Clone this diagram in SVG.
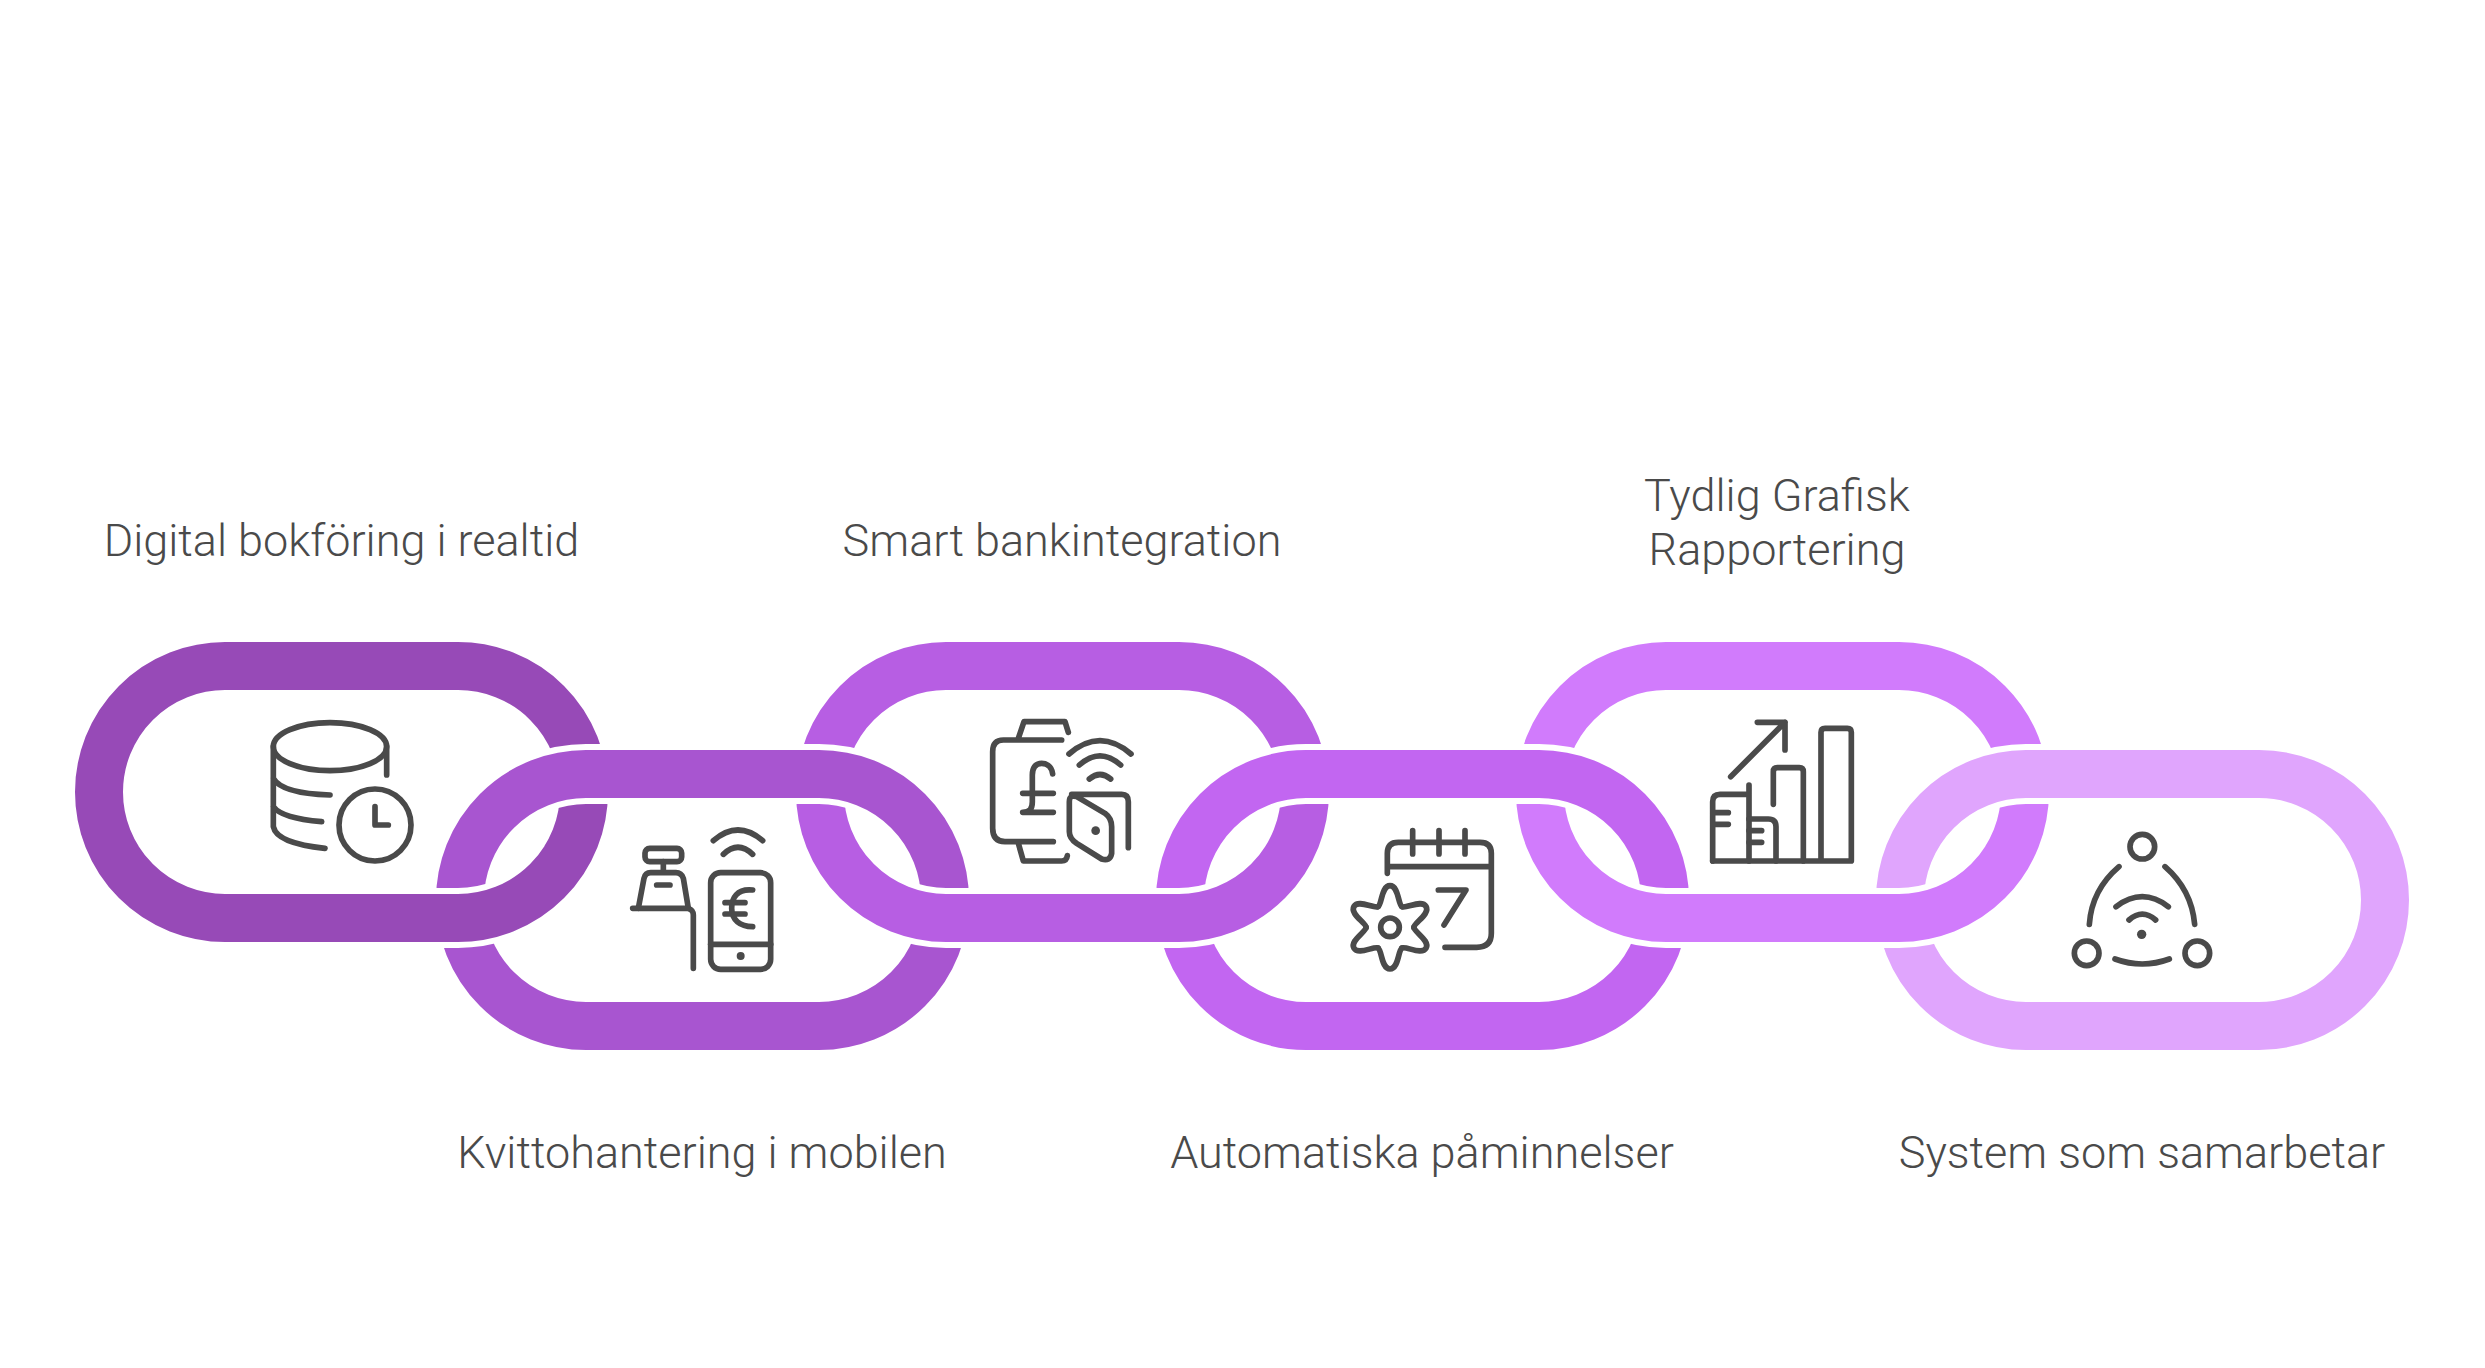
<svg xmlns="http://www.w3.org/2000/svg" width="2485" height="1368" viewBox="0 0 2485 1368">
<style>
.label{font-family:Roboto,"Liberation Sans",sans-serif;font-size:45px;font-weight:300;fill:#4a4a4a;text-anchor:middle}
.link{fill:none;stroke-width:48}
.halo{fill:none;stroke:#fff;stroke-width:60}
.icon{fill:none;stroke:#4a4a4a;stroke-width:17;stroke-linecap:round;stroke-linejoin:round}
.dot{fill:#4a4a4a;stroke:none}
.c1{stroke:#974ab7}.c2{stroke:#a855d0}.c3{stroke:#b75ee3}.c4{stroke:#c266f1}.c5{stroke:#d17bfc}.c6{stroke:#e0a5fd}
</style>
<defs>
<clipPath id="lower"><rect x="0" y="846" width="2485" height="300"/></clipPath>
<rect id="up" width="485" height="252" y="666" rx="126" ry="126"/>
<rect id="down" width="485" height="252" y="774" rx="126" ry="126"/>
<path id="lobe" d="M216 290C204 283 206 227 180 227C154 227 156 283 144 290"/>
</defs>
<rect width="2485" height="1368" fill="#fff"/>

<g id="node-1">
<use href="#up" x="99" class="link c1"/>
<text class="label" x="341.5" y="556">Digital bokföring i realtid</text>
<g class="icon" transform="translate(250 700) scale(.33333)">
<ellipse cx="240" cy="140" rx="170" ry="72"/>
<path d="M70 140V380Q80 430 225 445M410 140V225M70 235Q95 280 240 285M70 320Q95 355 215 365"/>
<circle cx="375" cy="375" r="108"/>
<path d="M375 320V375H415"/>
</g>
</g>

<g id="node-3">
<use href="#up" x="820" class="link c3"/>
<text class="label" x="1062" y="556">Smart bankintegration</text>
<g class="icon" transform="translate(970 705) scale(.33333)">
<path d="M275 105H100Q68 105 68 140V370Q68 410 105 410H250M145 100L162 50H285L295 82M145 415L160 468H275Q290 468 292 452"/>
<path d="M248 207C245 180 225 175 215 175C195 175 187 190 187 210V290C187 310 180 322 158 322M158 265H250M158 322H250"/>
<path d="M297 147Q390 67 483 147M328 180Q390 125 452 180M358 222Q390 195 422 222"/>
<path d="M305 268H455Q475 268 475 290V428M320 275L405 325Q425 340 425 365V445Q420 470 395 462L320 415Q298 400 298 380V290Q298 268 320 275Z"/>
<circle class="dot" cx="377" cy="377" r="13"/>
</g>
</g>

<g id="node-5">
<use href="#up" x="1540" class="link c5"/>
<text class="label"><tspan x="1777" y="511">Tydlig Grafisk</tspan><tspan x="1777" y="565">Rapportering</tspan></text>
<g class="icon" transform="translate(1690 705) scale(.33333)">
<path d="M122 215L285 52M202 52H285V135"/>
<path d="M68 468V290Q68 268 90 268H177M177 240V468M68 323H115M68 358H115"/>
<path d="M177 342H235Q258 342 258 365V468M177 377H215M177 412H215"/>
<path d="M250 298V200Q250 188 262 188H328Q340 188 340 200V468"/>
<path d="M393 468V82Q393 70 405 70H472Q484 70 484 82V468M68 468H484"/>
</g>
</g>

<g id="node-2">
<use href="#down" x="460" class="halo"/>
<use href="#down" x="460" class="link c2"/>
<text class="label" x="702" y="1168">Kvittohantering i mobilen</text>
<g class="icon" transform="translate(620 810) scale(.33333)">
<rect x="75" y="115" width="110" height="40" rx="14"/>
<path d="M130 155V185M55 295L72 205Q76 188 92 188H168Q184 188 190 205L205 295M110 225H150"/>
<path d="M38 295H205Q220 300 220 315V475"/>
<rect x="272" y="188" width="180" height="290" rx="30"/>
<path d="M272 403H452"/>
<circle class="dot" cx="362" cy="438" r="12"/>
<path d="M398 240C350 235 335 265 335 295C335 330 360 350 398 350M315 278H375M315 312H375"/>
<path d="M280 92Q354 28 428 92M310 133Q354 91 398 133"/>
</g>
</g>

<g id="node-4">
<use href="#down" x="1180" class="halo"/>
<use href="#down" x="1180" class="link c4"/>
<text class="label" x="1422" y="1168">Automatiska påminnelser</text>
<g class="icon" transform="translate(1330 810) scale(.33333)">
<path d="M172 190V130Q172 97 205 97H450Q484 97 484 130V370Q484 412 440 412H345M172 170H484M248 62V132M327 62V132M405 62V132M325 240H408L342 345"/>
<circle cx="180" cy="352" r="28"/>
<use href="#lobe"/>
<use href="#lobe" transform="rotate(60 180 352)"/>
<use href="#lobe" transform="rotate(120 180 352)"/>
<use href="#lobe" transform="rotate(180 180 352)"/>
<use href="#lobe" transform="rotate(240 180 352)"/>
<use href="#lobe" transform="rotate(300 180 352)"/>
</g>
</g>

<g id="node-6">
<use href="#down" x="1900" class="halo"/>
<use href="#down" x="1900" class="link c6"/>
<text class="label" x="2142" y="1168">System som samarbetar</text>
<g class="icon" transform="translate(2050 815) scale(.33333)">
<circle cx="277" cy="95" r="37"/>
<circle cx="110" cy="415" r="37"/>
<circle cx="442" cy="415" r="37"/>
<path d="M207 155Q125 225 118 328M345 155Q425 225 434 328M195 432Q277 462 358 432M198 275Q277 215 355 275M237 315Q277 280 317 315"/>
<circle class="dot" cx="275" cy="358" r="14"/>
</g>
</g>

<g id="connectors" clip-path="url(#lower)">
<use href="#up" x="99" class="halo"/>
<use href="#up" x="99" class="link c1"/>
<use href="#up" x="820" class="halo"/>
<use href="#up" x="820" class="link c3"/>
<use href="#up" x="1540" class="halo"/>
<use href="#up" x="1540" class="link c5"/>
</g>
</svg>
